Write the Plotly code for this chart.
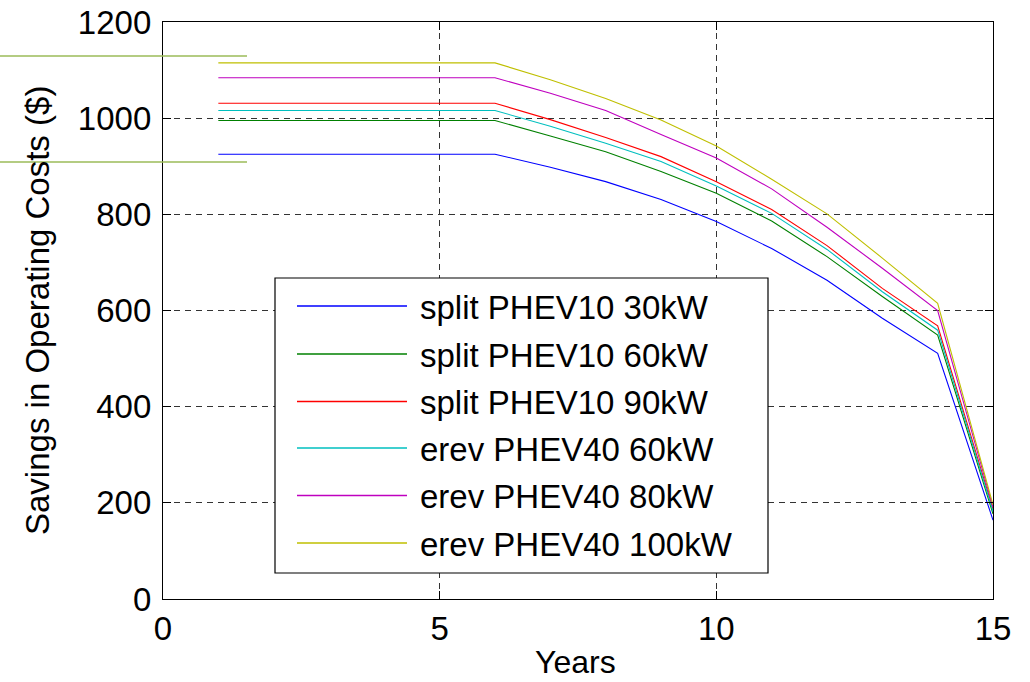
import plotly.graph_objects as go

years = list(range(1, 16))
split_30 = [925, 925, 925, 925, 925, 925, 898, 868, 831, 785, 729, 663, 584, 511, 164]
split_60 = [995, 995, 995, 995, 995, 995, 963, 930, 889, 844, 786, 712, 629, 549, 177]
split_90 = [1031, 1031, 1031, 1031, 1031, 1031, 997, 960, 920, 868, 810, 735, 646, 568, 187]
erev_60 = [1016, 1016, 1016, 1016, 1016, 1016, 983, 948, 910, 859, 802, 727, 639, 559, 182]
erev_80 = [1084, 1084, 1084, 1084, 1084, 1084, 1052, 1016, 966, 917, 853, 773, 688, 600, 191]
erev_100 = [1115, 1115, 1115, 1115, 1115, 1115, 1080, 1041, 996, 942, 873, 801, 709, 615, 196]

names = ["split PHEV10 30kW", "split PHEV10 60kW", "split PHEV10 90kW",
         "erev PHEV40 60kW", "erev PHEV40 80kW", "erev PHEV40 100kW"]
series = [split_30, split_60, split_90, erev_60, erev_80, erev_100]
colors = ["#0000ff", "#008000", "#ff0000", "#00bfbf", "#bf00bf", "#bfbf00"]

x_ticks = [0, 5, 10, 15]
y_ticks = [0, 200, 400, 600, 800, 1000, 1200]

W, H = 1030, 682
L, R, T, B = 163, 993, 22, 599
FONT = "Liberation Sans, Arial, sans-serif"

def px(xp):
    return (xp - L) / (R - L)

def py(yp):
    return (B - yp) / (B - T)

fig = go.Figure()
for name, vals, c in zip(names, series, colors):
    fig.add_trace(go.Scatter(x=years, y=vals, mode="lines", name=name,
                             line=dict(color=c, width=1.1), showlegend=False))

shapes = []
annotations = []

# legend box
shapes.append(dict(type="rect", xref="paper", yref="paper",
                   x0=px(275), x1=px(768), y0=py(573), y1=py(278),
                   line=dict(color="black", width=1.2), fillcolor="white", layer="above"))
row_y = [306, 354, 401.5, 448, 495.5, 543]
for name, c, yy in zip(names, colors, row_y):
    shapes.append(dict(type="line", xref="paper", yref="paper",
                       x0=px(297), x1=px(407), y0=py(yy), y1=py(yy),
                       line=dict(color=c, width=1.3), layer="above"))
    annotations.append(dict(text=name, xref="paper", yref="paper",
                            x=px(418), y=py(yy + 1), xanchor="left", yanchor="middle",
                            showarrow=False, font=dict(family=FONT, size=33, color="black")))

# stray green lines at top-left
for yy in (56, 162):
    shapes.append(dict(type="line", xref="paper", yref="paper",
                       x0=px(0), x1=px(247), y0=py(yy), y1=py(yy),
                       line=dict(color="#9bbb59", width=1.6), layer="above"))

# axis titles
annotations.append(dict(text="Years", xref="paper", yref="paper",
                        x=px(575), y=py(662), xanchor="center", yanchor="middle",
                        showarrow=False, font=dict(family=FONT, size=32, color="black")))
annotations.append(dict(text="Savings in Operating Costs ($)", xref="paper", yref="paper",
                        x=px(37), y=py(311), xanchor="center", yanchor="middle",
                        textangle=-90, showarrow=False,
                        font=dict(family=FONT, size=33, color="black")))

axis_common = dict(showline=True, linecolor="black", linewidth=1.3, mirror="ticks",
                   ticks="inside", ticklen=8, tickcolor="black", tickwidth=1,
                   showgrid=True, gridcolor="#333333", gridwidth=1, griddash="6px,5px",
                   zeroline=False, automargin=False,
                   tickfont=dict(family=FONT, size=33, color="black"))

fig.update_layout(
    width=W, height=H,
    margin=dict(l=L, r=W - R, t=T, b=H - B, autoexpand=False),
    paper_bgcolor="white", plot_bgcolor="white",
    shapes=shapes, annotations=annotations,
    xaxis=dict(range=[0, 15], tickvals=x_ticks, ticktext=[str(v) for v in x_ticks],
               ticklabelstandoff=0, **axis_common),
    yaxis=dict(range=[0, 1200], tickvals=y_ticks, ticktext=[str(v) for v in y_ticks],
               ticklabelstandoff=4, **axis_common),
)

fig.write_html("out.html")
